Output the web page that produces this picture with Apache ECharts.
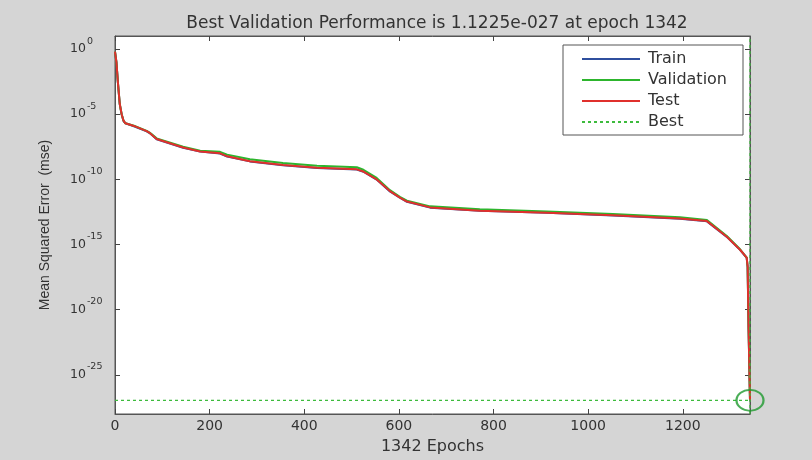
<!DOCTYPE html>
<html>
<head>
<meta charset="utf-8">
<script src="https://cdn.jsdelivr.net/npm/echarts@6/dist/echarts.min.js"></script>
<style>
html,body{margin:0;padding:0;background:#d5d5d5;}
#chart{width:812px;height:460px;}
</style>
</head>
<body>
<div id="chart"></div>
<script>
// ---- data ----
const epochs     = [0, 3, 6, 10, 14, 18, 22, 40, 67, 74, 88, 144, 180, 222, 237, 285, 355, 427, 511, 525, 553, 581, 602, 617, 666, 771, 913, 1052, 1194, 1251, 1293, 1321, 1335, 1337, 1339, 1342];
const trainMse   = [6.0e-1, 1.0e-1, 3.0e-3, 6.0e-5, 1.0e-5, 3.0e-6, 2.0e-6, 1.2e-6, 4.8e-7, 3.4e-7, 1.2e-7, 2.7e-8, 1.35e-8, 9.6e-9, 5.7e-9, 2.4e-9, 1.2e-9, 7.6e-10, 5.7e-10, 3.9e-10, 9.6e-11, 1.2e-11, 3.9e-12, 1.9e-12, 6.8e-13, 3.9e-13, 2.7e-13, 1.7e-13, 9.6e-14, 6.0e-14, 3.9e-15, 3.9e-16, 9.6e-17, 1.9e-17, 3.0e-22, 1.1e-27];
const valMse     = [6.3e-1, 1.0e-1, 3.2e-3, 6.3e-5, 1.0e-5, 3.2e-6, 2.0e-6, 1.3e-6, 5.2e-7, 3.7e-7, 1.4e-7, 3.2e-8, 1.6e-8, 1.3e-8, 7.9e-9, 3.5e-9, 1.8e-9, 1.1e-9, 8.5e-10, 5.5e-10, 1.3e-10, 1.5e-11, 4.5e-12, 2.3e-12, 8.5e-13, 5.0e-13, 3.5e-13, 2.2e-13, 1.26e-13, 7.5e-14, 4.5e-15, 4.3e-16, 1.0e-16, 2.0e-17, 3.2e-22, 1.1225e-27];
const testMse    = [6.3e-1, 1.0e-1, 3.2e-3, 6.3e-5, 1.0e-5, 3.2e-6, 2.0e-6, 1.26e-6, 5.0e-7, 3.5e-7, 1.26e-7, 2.8e-8, 1.4e-8, 1.0e-8, 5.9e-9, 2.5e-9, 1.26e-9, 7.9e-10, 5.9e-10, 4.0e-10, 1.0e-10, 1.26e-11, 4.0e-12, 2.0e-12, 7.1e-13, 4.0e-13, 2.8e-13, 1.8e-13, 1.0e-13, 6.3e-14, 4.0e-15, 4.0e-16, 1.0e-16, 2.0e-17, 3.2e-22, 1.12e-27];
const bestEpoch  = 1342;
const bestPerf   = 1.1225e-27;
const xTicks     = [0, 200, 400, 600, 800, 1000, 1200];
const yTicks     = [1e-25, 1e-20, 1e-15, 1e-10, 1e-5, 1];
const xRange     = [0, 1342];
const yRange     = [1e-28, 10];
const titleText  = 'Best Validation Performance is 1.1225e-027 at epoch 1342';

const zip = (xs, ys) => xs.map((x, i) => [x, ys[i]]);
const ARIAL = '"Liberation Sans", Arial, sans-serif';
const WIDE = '"DejaVu Sans", sans-serif';

const chart = echarts.init(document.getElementById('chart'), null, {renderer: 'canvas'});

function expLabel(v) {
  const e = Math.round(Math.log10(v));
  return '{b|10}{e|' + e + '}';
}

const tickStyle = {show: true, inside: true, length: 5, lineStyle: {color: '#444', width: 1}};
const lineAxis = {show: true, onZero: false, lineStyle: {color: '#555', width: 1}};

chart.setOption({
  backgroundColor: '#d5d5d5',
  animation: false,
  title: {
    text: titleText,
    left: 432, top: 10, textAlign: 'center',
    textStyle: {fontFamily: WIDE, fontSize: 17, fontWeight: 'normal', color: '#333'}
  },
  grid: {left: 115, right: 62, top: 36, bottom: 46, show: true, backgroundColor: '#fff', borderColor: '#555', borderWidth: 1},
  legend: {
    orient: 'vertical', left: 563, top: 45,
    padding: [6, 16, 5, 18], itemGap: 5, itemWidth: 58, itemHeight: 14,
    backgroundColor: '#fff', borderColor: '#555', borderWidth: 1, borderRadius: 0,
    itemStyle: {opacity: 0},
    textStyle: {fontFamily: WIDE, fontSize: 16, lineHeight: 16, color: '#333', padding: [0, 0, 0, 3]},
    data: ['Train', 'Validation', 'Test', 'Best']
  },
  xAxis: [{
    type: 'value', min: xRange[0], max: xRange[1],
    name: '1342 Epochs', nameLocation: 'middle', nameGap: 25,
    nameTextStyle: {fontFamily: WIDE, fontSize: 16, color: '#333'},
    axisLine: lineAxis, splitLine: {show: false},
    axisTick: Object.assign({customValues: xTicks}, tickStyle),
    axisLabel: {customValues: xTicks, margin: 5, fontFamily: WIDE, fontSize: 14, color: '#333',
                formatter: v => String(v)}
  }, {
    type: 'value', position: 'top', min: xRange[0], max: xRange[1],
    axisLine: lineAxis, splitLine: {show: false},
    axisTick: Object.assign({customValues: xTicks}, tickStyle),
    axisLabel: {show: false}
  }],
  yAxis: [{
    type: 'log', logBase: 10, min: yRange[0], max: yRange[1],
    name: 'Mean Squared Error  (mse)', nameLocation: 'middle', nameGap: 63,
    nameTextStyle: {fontFamily: ARIAL, fontSize: 14, color: '#333'},
    axisLine: lineAxis, splitLine: {show: false}, minorTick: {show: false},
    axisTick: Object.assign({customValues: yTicks}, tickStyle),
    axisLabel: {
      customValues: yTicks, margin: 45, align: 'left', formatter: expLabel,
      rich: {
        b: {fontFamily: WIDE, fontSize: 12.5, color: '#333'},
        e: {fontFamily: WIDE, fontSize: 9.5, color: '#333', padding: [0, 0, 16, 1]}
      }
    }
  }, {
    type: 'log', logBase: 10, position: 'right', min: yRange[0], max: yRange[1],
    axisLine: lineAxis, splitLine: {show: false}, minorTick: {show: false},
    axisTick: Object.assign({customValues: yTicks}, tickStyle),
    axisLabel: {show: false}
  }],
  series: [
    {name: 'Train', type: 'line', data: zip(epochs, trainMse), showSymbol: false, symbol: 'none',
     lineStyle: {color: '#2f4f9e', width: 2}, itemStyle: {color: '#2f4f9e'}},
    {name: 'Validation', type: 'line', data: zip(epochs, valMse), showSymbol: false, symbol: 'none',
     lineStyle: {color: '#2db52d', width: 2}, itemStyle: {color: '#2db52d'}},
    {name: 'Test', type: 'line', data: zip(epochs, testMse), showSymbol: false, symbol: 'none',
     lineStyle: {color: '#e0302c', width: 2}, itemStyle: {color: '#e0302c'}},
    {name: 'Best', type: 'line', data: [[xRange[0], bestPerf], [bestEpoch, bestPerf]], showSymbol: false, symbol: 'none',
     lineStyle: {color: '#3dbb3d', width: 1.2, type: [3, 3]}, itemStyle: {color: '#3dbb3d'}},
    {name: 'Best', type: 'line', xAxisIndex: 1, yAxisIndex: 1, data: [[bestEpoch, yRange[0]], [bestEpoch, yRange[1]]], showSymbol: false, symbol: 'none',
     lineStyle: {color: '#3dbb3d', width: 1.2, type: [3, 3]}, itemStyle: {color: '#3dbb3d'}},
    {name: 'Goal', type: 'scatter', data: [[bestEpoch, bestPerf]], symbol: 'circle', symbolSize: [27, 21],
     itemStyle: {color: 'rgba(0,0,0,0)', borderColor: '#1e9a2e', borderWidth: 2}, z: 5}
  ]
});
</script>
</body>
</html>
